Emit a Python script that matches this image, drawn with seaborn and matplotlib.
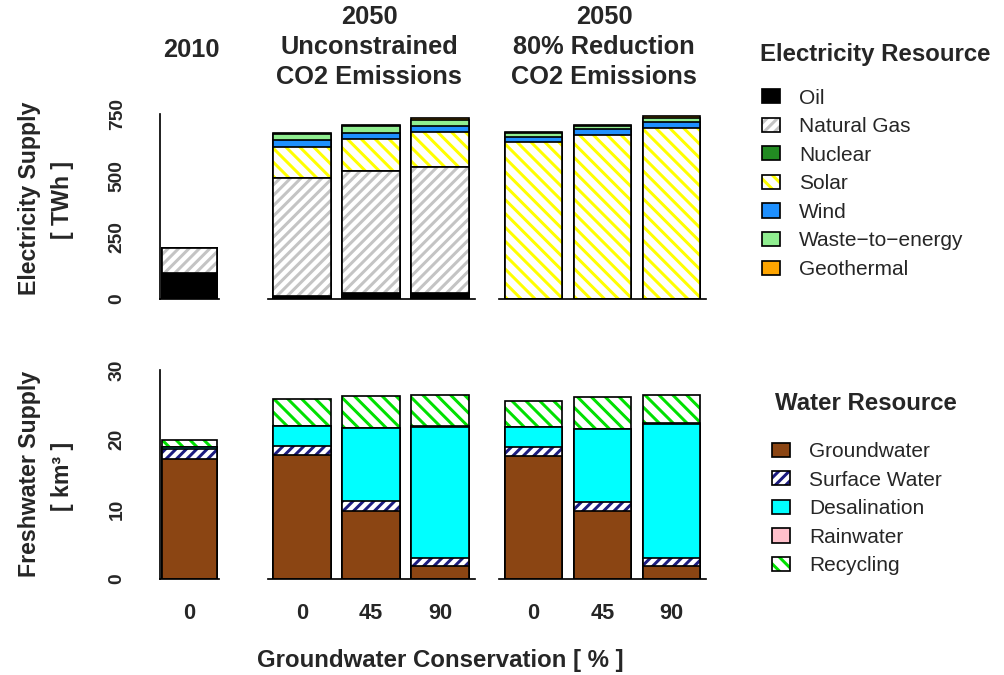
import numpy as np
import pandas as pd
import matplotlib
matplotlib.use("Agg")
import matplotlib.pyplot as plt
from matplotlib.patches import Patch
import seaborn as sns

# ---------------------------------------------------------------- data
conservation_2010 = ["0"]
conservation_2050 = ["0", "45", "90"]

elec_names = ["Oil", "Natural Gas", "Nuclear", "Solar", "Wind",
              "Waste\u2212to\u2212energy", "Geothermal"]
water_names = ["Groundwater", "Surface Water", "Desalination", "Rainwater", "Recycling"]

# electricity supply [TWh], one list per resource (bars: 0 / 45 / 90 %)
oil_2010, gas_2010 = [104], [104]
nuclear_2010, solar_2010, wind_2010, waste_2010, geo_2010 = [0], [0], [0], [0], [0]

oil_unc = [13, 23, 24]
gas_unc = [476, 496, 510]
nuclear_unc = [0, 0, 0]
solar_unc = [129, 130, 144]
wind_unc = [26, 23, 23]
waste_unc = [25, 28, 26]
geo_unc = [5, 7, 7]

oil_red = [0, 0, 0]
gas_red = [0, 0, 0]
nuclear_red = [0, 0, 0]
solar_red = [635, 665, 694]
wind_red = [22, 23, 22]
waste_red = [15, 14, 17]
geo_red = [4, 4, 7]

# freshwater supply [km3]
gw_2010, sw_2010, desal_2010, rain_2010, recyc_2010 = [17.2], [1.4], [0.35], [0.0], [1.0]

gw_unc = [17.8, 9.7, 1.8]
sw_unc = [1.3, 1.4, 1.2]
desal_unc = [2.9, 10.6, 18.85]
rain_unc = [0.0, 0.0, 0.15]
recyc_unc = [3.8, 4.6, 4.5]

gw_red = [17.6, 9.7, 1.8]
sw_red = [1.3, 1.3, 1.1]
desal_red = [2.9, 10.6, 19.3]
rain_red = [0.0, 0.0, 0.15]
recyc_red = [3.7, 4.5, 4.1]

elec_ticks = [0, 250, 500, 750]
water_ticks = [0, 10, 20, 30]

# ---------------------------------------------------------------- style
# (fill colour, hatch colour, hatch)
elec_styles = {
    "Oil": ("#000000", None, None),
    "Natural Gas": ("#FFFFFF", "#C4C4C4", "////"),
    "Nuclear": ("#228B22", None, None),
    "Solar": ("#FFFFFF", "#FFFF00", "\\\\\\"),
    "Wind": ("#1E90FF", None, None),
    "Waste\u2212to\u2212energy": ("#90EE90", None, None),
    "Geothermal": ("#FFA500", None, None),
}
water_styles = {
    "Groundwater": ("#8B4513", None, None),
    "Surface Water": ("#FFFFFF", "#1C1C80", "////"),
    "Desalination": ("#00FFFF", None, None),
    "Rainwater": ("#FFC0CB", None, None),
    "Recycling": ("#FFFFFF", "#00E000", "\\\\\\"),
}

DPI = 125
W, H = 1004, 675
PT = 72.0 / DPI  # points per pixel

sns.set_style("white")
plt.rcParams["font.family"] = ["Liberation Sans", "DejaVu Sans"]
plt.rcParams["hatch.linewidth"] = 3.0 * PT
plt.rcParams["axes.edgecolor"] = "black"

EDGE_LW = 1.7 * PT
SPINE_LW = 1.7 * PT

fig = plt.figure(figsize=(W / DPI, H / DPI), dpi=DPI)
fig.patch.set_facecolor("white")


def px_axes(left, right, bottom_y, top_y):
    return fig.add_axes([left / W, 1 - bottom_y / H, (right - left) / W, (bottom_y - top_y) / H])


def draw_stack(ax, levels, layers, styles, width):
    df = pd.DataFrame({"level": levels})
    cum = np.zeros(len(levels))
    for name, vals in layers:
        cum = cum + np.asarray(vals, dtype=float)
        df[name] = cum.copy()
    # tallest cumulative bar first, each lower one painted over it
    for name, _ in reversed(layers):
        face, hcol, hatch = styles[name]
        n0 = len(ax.patches)
        sns.barplot(data=df, x="level", y=name, order=levels, ax=ax, width=width,
                    saturation=1, errorbar=None, color=face)
        for p in ax.patches[n0:]:
            p.set_facecolor(face)
            p.set_linewidth(0)
            if hatch:
                p.set_edgecolor(hcol)
                p.set_hatch(hatch)
            else:
                p.set_edgecolor(face)
        n1 = len(ax.patches)
        sns.barplot(data=df, x="level", y=name, order=levels, ax=ax, width=width,
                    saturation=1, errorbar=None, color=face)
        for p in ax.patches[n1:]:
            p.set_facecolor("none")
            p.set_edgecolor("black")
            p.set_linewidth(EDGE_LW)
            p.set_hatch(None)


# panel geometry in pixels
cols = [(160, 219, conservation_2010, 0.92), (267.5, 474.5, conservation_2050, 0.84),
        (499, 706, conservation_2050, 0.84)]
top_row = (299, 299 - 760 * 185 / 750)
bot_row = (578.5, 578.5 - 31 * 208.3 / 30)

elec_data = [
    [oil_2010, gas_2010, nuclear_2010, solar_2010, wind_2010, waste_2010, geo_2010],
    [oil_unc, gas_unc, nuclear_unc, solar_unc, wind_unc, waste_unc, geo_unc],
    [oil_red, gas_red, nuclear_red, solar_red, wind_red, waste_red, geo_red],
]
water_data = [
    [gw_2010, sw_2010, desal_2010, rain_2010, recyc_2010],
    [gw_unc, sw_unc, desal_unc, rain_unc, recyc_unc],
    [gw_red, sw_red, desal_red, rain_red, recyc_red],
]

TICK_FS = 11
XT_FS = 12.5
for ci, (left, right, levels, width) in enumerate(cols):
    for ri, (row, data, names, styles, ticks, ymax) in enumerate([
            (top_row, elec_data[ci], elec_names, elec_styles, elec_ticks, 760),
            (bot_row, water_data[ci], water_names, water_styles, water_ticks, 31)]):
        ax = px_axes(left, right, row[0], row[1])
        ax.set_facecolor("none")
        draw_stack(ax, levels, list(zip(names, data)), styles, width)
        ax.set_xlim(-0.5, len(levels) - 0.5)
        ax.set_ylim(0, ymax)
        ax.set_xlabel("")
        ax.set_ylabel("")
        for s in ("top", "right"):
            ax.spines[s].set_visible(False)
        ax.spines["bottom"].set_linewidth(SPINE_LW)
        ax.spines["bottom"].set_color("black")
        ax.tick_params(axis="x", length=0)
        if ri == 0:
            ax.tick_params(axis="x", labelbottom=False)
        else:
            ax.set_xticks(range(len(levels)))
            ax.set_xticklabels(levels, fontsize=XT_FS, fontweight="bold")
            ax.tick_params(axis="x", pad=14)
        if ci == 0:
            ax.spines["left"].set_linewidth(SPINE_LW)
            ax.spines["left"].set_color("black")
            ax.spines["left"].set_bounds(ticks[0], ticks[-1])
            ax.set_yticks(ticks)
            ax.set_yticklabels([str(t) for t in ticks], fontsize=TICK_FS, fontweight="bold",
                               rotation=90, va="center")
            ax.tick_params(axis="y", length=17 * PT, width=SPINE_LW, pad=10)
        else:
            ax.spines["left"].set_visible(False)
            ax.set_yticks([])
        ax.grid(False)


def ftext(x, y, s, **kw):
    fig.text(x / W, 1 - y / H, s, **kw)


TITLE_FS = 14.6
# panel titles
ftext(191, 50, "2010", ha="center", va="center", fontsize=TITLE_FS, fontweight="bold")
for x, lines in [(369, ["2050", "Unconstrained", "CO2 Emissions"]),
                 (604, ["2050", "80% Reduction", "CO2 Emissions"])]:
    for y, s in zip([17, 47, 77], lines):
        ftext(x, y, s, ha="center", va="center", fontsize=TITLE_FS, fontweight="bold")

# axis titles
ftext(30, 198, "Electricity Supply", rotation=90, ha="center", va="center",
      fontsize=13.3, fontweight="bold")
ftext(62, 200, "[ TWh ]", rotation=90, ha="center", va="center", fontsize=13.3, fontweight="bold")
ftext(30, 474, "Freshwater Supply", rotation=90, ha="center", va="center",
      fontsize=13.3, fontweight="bold")
ftext(62, 476, "[ km\u00b3 ]", rotation=90, ha="center", va="center", fontsize=13.3,
      fontweight="bold")
ftext(440, 660, "Groundwater Conservation [ % ]", ha="center", va="center",
      fontsize=13.8, fontweight="bold")


def legend_handles(names, styles):
    hs = []
    for n in names:
        face, hcol, hatch = styles[n]
        if hatch:
            fill = Patch(facecolor="white", edgecolor=hcol, hatch=hatch, linewidth=0)
        else:
            fill = Patch(facecolor=face, edgecolor=face, linewidth=0)
        outline = Patch(facecolor="none", edgecolor="black", linewidth=EDGE_LW)
        hs.append((fill, outline))
    return hs


LEG_FS = 12
leg_kw = dict(loc="upper left", frameon=False, fontsize=LEG_FS, handlelength=0.87,
              handleheight=0.67, handletextpad=0.9, labelspacing=0.46, borderpad=0,
              borderaxespad=0)
ftext(760, 55, "Electricity Resource", ha="left", va="center", fontsize=13.8,
      fontweight="bold")
fig.legend(legend_handles(elec_names, elec_styles), elec_names,
           bbox_to_anchor=(762 / W, 1 - 88.5 / H), **leg_kw)
ftext(775, 403, "Water Resource", ha="left", va="center", fontsize=13.8, fontweight="bold")
fig.legend(legend_handles(water_names, water_styles), water_names,
           bbox_to_anchor=(772 / W, 1 - 442 / H), **leg_kw)

fig.savefig("out.png", dpi=DPI, facecolor="white")
